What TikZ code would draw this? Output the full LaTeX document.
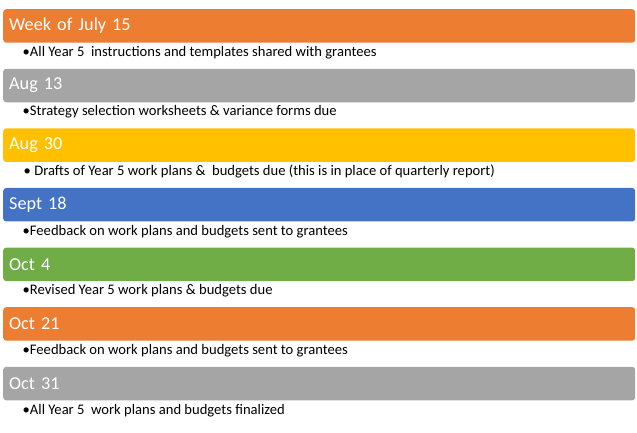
\documentclass[tikz,border=0pt]{standalone}
\usepackage{fontspec}
\setmainfont{Carlito}
\usetikzlibrary{positioning}
\definecolor{accentorange}{HTML}{ED7D31}
\definecolor{accentgrey}{HTML}{A5A5A5}
\definecolor{accentgold}{HTML}{FFC000}
\definecolor{accentblue}{HTML}{4472C4}
\definecolor{accentgreen}{HTML}{70AD47}

\begin{document}
\begin{tikzpicture}[
        x=1bp, y=-1bp,
        band/.style={rectangle, fill=#1, text=white, anchor=north west, minimum height=33.5bp, text width=620bp, inner xsep=6bp, inner ysep=0pt, align=left, rounded corners=3bp, font=\fontsize{18.2bp}{22bp}\selectfont},
        item/.style={inner sep=0pt, text=black, font=\fontsize{14.6bp}{17bp}\selectfont}
    ]
        \useasboundingbox (0,0) rectangle (637,433);

        \node[band=accentorange] (jul15) at (3,9) {Week of July 15};
        \node[item, below right=13.5bp and 19.5bp of jul15.south west, anchor=base west] (jul15item) {•All Year 5~ instructions and templates shared with grantees};

        \node[band=accentgrey] (aug13) at (3,68.6) {Aug 13};
        \node[item, below right=13.5bp and 19.5bp of aug13.south west, anchor=base west] (aug13item) {•Strategy selection worksheets \& variance forms due};

        \node[band=accentgold] (aug30) at (3,128.2) {Aug 30};
        \node[item, below right=13.5bp and 20.5bp of aug30.south west, anchor=base west] (aug30item) {• Drafts of Year 5 work plans \&~ budgets due (this is in place of quarterly report)};

        \node[band=accentblue] (sep18) at (3,187.8) {Sept 18};
        \node[item, below right=13.5bp and 19.5bp of sep18.south west, anchor=base west] (sep18item) {•Feedback on work plans and budgets sent to grantees};

        \node[band=accentgreen] (oct4) at (3,247.4) {Oct 4};
        \node[item, below right=13.5bp and 19.5bp of oct4.south west, anchor=base west] (oct4item) {•Revised Year 5 work plans \& budgets due};

        \node[band=accentorange] (oct21) at (3,307) {Oct 21};
        \node[item, below right=13.5bp and 19.5bp of oct21.south west, anchor=base west] (oct21item) {•Feedback on work plans and budgets sent to grantees};

        \node[band=accentgrey] (oct31) at (3,366.6) {Oct 31};
        \node[item, below right=13.5bp and 19.5bp of oct31.south west, anchor=base west] (oct31item) {•All Year 5~ work plans and budgets finalized};
    \end{tikzpicture}
\end{document}
